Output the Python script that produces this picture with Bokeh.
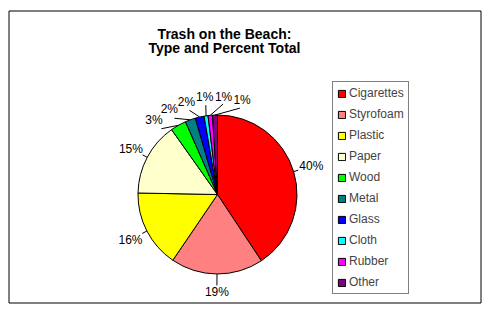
import math
from bokeh.plotting import figure
from bokeh.models import Range1d, Legend, LegendItem, Label, ColumnDataSource
from bokeh.embed import file_html
from bokeh.resources import INLINE
from bokeh.core.properties import value

categories = ["Cigarettes", "Styrofoam", "Plastic", "Paper", "Wood",
              "Metal", "Glass", "Cloth", "Rubber", "Other"]
percents = [40.7, 18.8, 15.8, 14.9, 3.2, 2.1, 1.8, 0.8, 0.9, 1.0]
pct_labels = ["40%", "19%", "16%", "15%", "3%", "2%", "2%", "1%", "1%", "1%"]
colors = ["#FF0000", "#FF8080", "#FFFF00", "#FFFFCC", "#00FF00",
          "#008080", "#0000FF", "#00FFFF", "#FF00FF", "#800080"]

title_lines = ["Trash on the Beach:", "Type and Percent Total"]

W, H = 493, 315
FONT = "Liberation Sans"

p = figure(width=W, height=H, x_range=Range1d(0, W), y_range=Range1d(0, H),
           output_backend="svg", toolbar_location=None, min_border=0,
           x_axis_type=None, y_axis_type=None)
p.outline_line_color = None
p.background_fill_color = "white"
p.border_fill_color = "white"

# chart-area border
p.quad(left=8.5, right=480.5, bottom=H - 302.5, top=H - 10.5,
       fill_color=None, line_color="black", line_width=1)

# pie geometry
cx, cy, R = 217.0, H - 194.0, 79.5
total = sum(percents)
starts, ends, mids = [], [], []
cum = 0.0
for v in percents:
    s = math.pi / 2 - 2 * math.pi * cum / total
    e = s - 2 * math.pi * v / total
    starts.append(s)
    ends.append(e)
    mids.append((s + e) / 2)
    cum += v

src = ColumnDataSource(dict(start=starts, end=ends, color=colors, cat=categories))
r = p.wedge(x=cx, y=cy, radius=R, start_angle="start", end_angle="end",
            direction="clock", fill_color="color", line_color="black",
            line_width=1, source=src)

# label angles: relax overlapping labels (min angular gap)
gap = math.radians(11)
lab = [m if m > -math.pi / 2 else m + 2 * math.pi for m in mids]
lab = [a if a > -math.pi else a for a in lab]
order = sorted(range(len(lab)), key=lambda i: -lab[i])
for _ in range(200):
    for k in range(len(order) - 1):
        i, j = order[k], order[k + 1]
        d = lab[i] - lab[j]
        if d < gap:
            sh = (gap - d) / 2
            lab[i] += sh
            lab[j] -= sh

RL = 98.0
lx, ly, x0, y0, x1, y1 = [], [], [], [], [], []
for m, a in zip(mids, lab):
    lx.append(cx + RL * math.cos(a))
    ly.append(cy + RL * math.sin(a))
    x0.append(cx + R * math.cos(m))
    y0.append(cy + R * math.sin(m))
    rq = RL - (7 + 7 * abs(math.cos(a)))
    x1.append(cx + rq * math.cos(a))
    y1.append(cy + rq * math.sin(a))

p.segment(x0=x0, y0=y0, x1=x1, y1=y1, line_color="black", line_width=1)
p.text(x=lx, y=ly, text=pct_labels, text_align="center", text_baseline="middle",
       text_font=value(FONT), text_font_size="12px", text_color="black")

# title
for k, t in enumerate(title_lines):
    p.add_layout(Label(x=224, y=H - 33 - 14 * k, text=t, text_align="center",
                       text_baseline="middle", text_font=FONT,
                       text_font_size="14px", text_font_style="bold",
                       text_color="black"))

items = [LegendItem(label=c, renderers=[r], index=i) for i, c in enumerate(categories)]
legend = Legend(items=items, location=(332, 21), margin=0, padding=4,
                spacing=7, glyph_width=9, glyph_height=9, label_height=14,
                label_standoff=3, label_text_font=FONT,
                label_text_font_size="12px", border_line_color="black",
                border_line_width=1, background_fill_color="white",
                background_fill_alpha=1.0)
p.add_layout(legend, "center")

open("out.html", "w").write(file_html(p, INLINE))
